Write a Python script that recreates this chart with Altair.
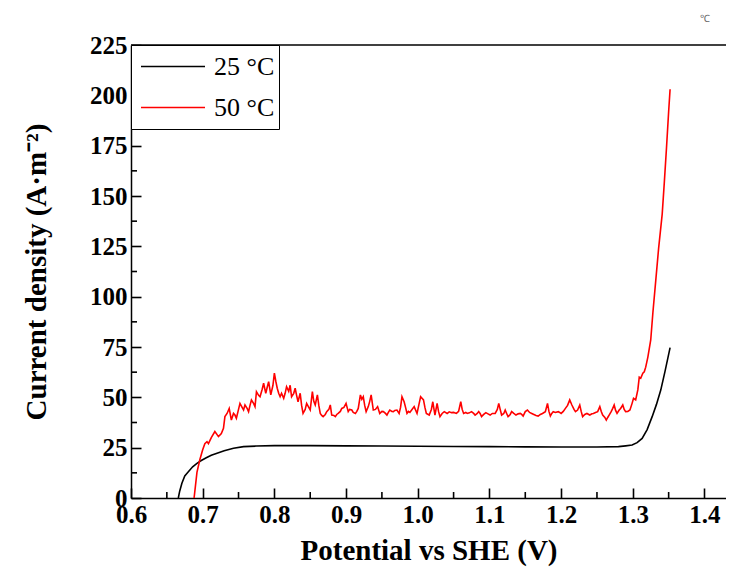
import altair as alt
import pandas as pd

# ---- data ----
series_labels = ["25 °C", "50 °C"]

pot_25 = [0.666, 0.668, 0.671, 0.675, 0.680, 0.686, 0.692, 0.698, 0.705, 0.712, 0.720,
          0.730, 0.743, 0.757, 0.775, 0.800, 0.850, 0.900, 0.950, 1.000, 1.050, 1.100,
          1.150, 1.200, 1.250, 1.280, 1.290, 1.299, 1.306, 1.313, 1.320, 1.327, 1.333,
          1.339, 1.345, 1.352]
cur_25 = [0, 3.5, 7.3, 11.0, 13.0, 15.5, 17.2, 18.6, 20.0, 21.2, 22.2,
          23.5, 24.7, 25.5, 25.8, 26.0, 26.0, 25.9, 25.8, 25.7, 25.6, 25.5,
          25.4, 25.3, 25.3, 25.5, 25.9, 26.3, 27.5, 29.6, 34.0, 40.4, 46.5,
          53.6, 63.0, 74.7]

pot_50 = [0.688, 0.692, 0.696, 0.700, 0.703, 0.706, 0.708, 0.712, 0.717, 0.722, 0.726,
          0.729, 0.731, 0.734, 0.737, 0.740, 0.743, 0.745, 0.747, 0.750, 0.752, 0.755,
          0.757, 0.759, 0.762, 0.764, 0.766, 0.768, 0.771, 0.773, 0.775, 0.778, 0.780,
          0.783, 0.785, 0.788, 0.790, 0.792, 0.795, 0.798, 0.800, 0.802, 0.804, 0.806,
          0.808, 0.810, 0.813, 0.815, 0.817, 0.820, 0.822, 0.824, 0.827, 0.829, 0.831,
          0.833, 0.836, 0.838, 0.840, 0.843, 0.845, 0.848, 0.850, 0.853, 0.855, 0.857,
          0.860, 0.862, 0.864, 0.866, 0.868, 0.871, 0.873, 0.876, 0.878, 0.880, 0.883,
          0.885, 0.887, 0.889, 0.892, 0.894, 0.897, 0.900, 0.903, 0.905, 0.908, 0.910,
          0.913, 0.915, 0.917, 0.920, 0.922, 0.924, 0.926, 0.928, 0.931, 0.933, 0.935,
          0.938, 0.941, 0.944, 0.947, 0.950, 0.952, 0.955, 0.957, 0.959, 0.961, 0.964,
          0.966, 0.968, 0.971, 0.974, 0.976, 0.978, 0.981, 0.983, 0.985, 0.987, 0.989,
          0.992, 0.995, 0.999, 1.002, 1.004, 1.006, 1.008, 1.010, 1.012, 1.016, 1.019,
          1.021, 1.024, 1.027, 1.029, 1.031, 1.034, 1.037, 1.041, 1.044, 1.047, 1.050,
          1.054, 1.057, 1.060, 1.062, 1.064, 1.067, 1.069, 1.072, 1.075, 1.078, 1.080,
          1.083, 1.085, 1.087, 1.089, 1.092, 1.095, 1.098, 1.101, 1.104, 1.108, 1.111,
          1.113, 1.115, 1.117, 1.120, 1.122, 1.124, 1.126, 1.129, 1.131, 1.134, 1.137,
          1.140, 1.143, 1.145, 1.147, 1.150, 1.153, 1.156, 1.159, 1.162, 1.165, 1.168,
          1.171, 1.174, 1.178, 1.181, 1.183, 1.185, 1.187, 1.189, 1.192, 1.196, 1.198,
          1.200, 1.203, 1.206, 1.209, 1.212, 1.215, 1.218, 1.220, 1.223, 1.226, 1.228,
          1.230, 1.233, 1.236, 1.240, 1.243, 1.245, 1.248, 1.251, 1.254, 1.256, 1.258,
          1.261, 1.263, 1.265, 1.267, 1.270, 1.272, 1.274, 1.276, 1.278, 1.281, 1.283,
          1.286, 1.288, 1.290, 1.293, 1.296, 1.299, 1.301, 1.304, 1.307, 1.309, 1.311,
          1.314, 1.316, 1.318, 1.321, 1.325, 1.328, 1.332, 1.336, 1.341, 1.344, 1.347,
          1.350, 1.352]
cur_50 = [0.0, 12.7, 19.0, 24.0, 27.0, 28.0, 27.0, 30.0, 33.0, 30.5, 32.0,
          34.6, 40.4, 42.0, 44.5, 38.7, 42.0, 41.2, 39.6, 44.0, 47.0, 45.0,
          43.7, 46.2, 44.5, 42.9, 46.0, 48.7, 47.0, 45.4, 52.8, 51.0, 50.3,
          54.0, 57.0, 52.0, 55.0, 57.8, 51.2, 56.0, 62.0, 58.0, 54.5, 52.0,
          50.3, 52.0, 49.5, 52.0, 55.3, 53.0, 56.0, 50.3, 52.0, 54.5, 51.0,
          47.8, 52.0, 46.0, 42.0, 44.0, 47.0, 45.0, 43.7, 52.8, 48.0, 46.2,
          51.2, 46.0, 42.0, 41.0, 40.4, 41.5, 42.9, 44.0, 46.2, 41.2, 41.0,
          40.4, 41.5, 42.0, 43.0, 44.5, 45.0, 47.0, 42.9, 44.0, 43.7, 42.5,
          42.0, 43.0, 44.5, 51.2, 49.0, 50.3, 46.0, 42.9, 45.4, 48.0, 51.2,
          43.7, 44.0, 45.4, 42.0, 43.0, 42.9, 42.0, 41.2, 42.5, 43.7, 43.0,
          42.9, 43.5, 43.7, 42.0, 45.0, 50.3, 47.8, 45.0, 42.0, 43.0, 42.5,
          44.0, 45.4, 42.0, 47.0, 50.3, 49.5, 48.7, 45.0, 42.0, 41.2, 44.0,
          47.8, 41.2, 47.0, 43.0, 40.4, 42.0, 42.9, 42.0, 42.8, 42.4, 42.5,
          42.0, 43.0, 47.8, 44.0, 42.0, 42.5, 42.0, 42.3, 42.9, 42.0, 41.2,
          42.0, 42.9, 42.0, 40.4, 41.5, 42.4, 41.8, 41.2, 42.0, 42.0, 44.0,
          47.0, 44.0, 41.2, 42.0, 43.7, 42.0, 40.4, 41.5, 42.9, 42.0, 41.2,
          41.8, 42.0, 41.5, 40.7, 42.9, 43.7, 42.5, 42.0, 41.5, 41.0, 40.7,
          41.5, 42.0, 42.9, 47.0, 43.0, 40.7, 42.0, 42.9, 42.5, 42.9, 42.5,
          42.0, 43.0, 44.5, 46.0, 48.7, 46.2, 44.0, 42.9, 43.7, 46.2, 43.0,
          40.4, 41.5, 42.0, 41.2, 41.8, 42.0, 42.5, 42.9, 45.4, 43.0, 41.2,
          40.0, 38.7, 40.0, 41.2, 43.0, 44.5, 46.2, 43.5, 42.0, 43.7, 44.5,
          46.2, 44.0, 42.9, 43.0, 43.7, 47.0, 49.5, 48.7, 53.7, 60.0, 59.5,
          62.0, 62.7, 65.0, 70.0, 78.5, 92.0, 108.0, 124.0, 141.0, 157.0, 174.0,
          192.0, 203.0]

x_major = [0.6, 0.7, 0.8, 0.9, 1.0, 1.1, 1.2, 1.3, 1.4]
x_minor = [0.65, 0.75, 0.85, 0.95, 1.05, 1.15, 1.25, 1.35]
y_major = [0, 25, 50, 75, 100, 125, 150, 175, 200, 225]
y_minor = [12.5, 37.5, 62.5, 87.5, 112.5, 137.5, 162.5, 187.5, 212.5]

corner_note = "℃"

# ---- tables ----
df = pd.concat([
    pd.DataFrame({"potential": pot_25, "current": cur_25, "series": series_labels[0]}),
    pd.DataFrame({"potential": pot_50, "current": cur_50, "series": series_labels[1]}),
], ignore_index=True)

W, H = 595, 453
FONT = "Liberation Serif"
X0, X1, Y0, Y1 = 0.6, 1.43, 0, 225
MINOR_LEN, TICK_W = 6, 1.6

xscale = alt.Scale(domain=[X0, X1], nice=False, zero=False)
yscale = alt.Scale(domain=[Y0, Y1], nice=False, zero=True)

px_x = (X1 - X0) / W
px_y = (Y1 - Y0) / H

# major ticks drawn by the axes themselves, pointing into the plot
inward_major = {"expr": "-10"}

lines = alt.Chart(df).mark_line(strokeWidth=1.6, clip=True).encode(
    x=alt.X("potential:Q", scale=xscale,
            axis=alt.Axis(orient="bottom", values=x_major, format=".1f", ticks=True,
                          tickSize=inward_major, tickWidth=TICK_W, tickColor="black",
                          grid=False, labelFlush=False, title="Potential vs SHE (V)",
                          labelPadding=14, titlePadding=9)),
    y=alt.Y("current:Q", scale=yscale,
            axis=alt.Axis(orient="left", values=y_major, format="d", ticks=True,
                          tickSize=inward_major, tickWidth=TICK_W, tickColor="black",
                          grid=False, labelFlush=False, title="Current density (A·m⁻²)",
                          labelPadding=14, titlePadding=38)),
    color=alt.Color("series:N",
                    scale=alt.Scale(domain=series_labels, range=["#000000", "#ff0000"]),
                    legend=alt.Legend(title=None, orient="none", legendX=0, legendY=0,
                                      symbolType="stroke", symbolSize=4096,
                                      symbolStrokeWidth=1.6, symbolOffset=5,
                                      labelFont=FONT, labelFontSize=26,
                                      labelFontWeight="normal", labelColor="black",
                                      labelOffset=8, padding=4, rowPadding=6,
                                      clipHeight=35, strokeColor="black",
                                      fillColor="white")),
    detail="series:N",
)

xt = pd.DataFrame({
    "tx": x_minor,
    "ty": [Y0] * len(x_minor),
    "ty2": [Y0 + MINOR_LEN * px_y] * len(x_minor),
})
yt = pd.DataFrame({
    "ty": y_minor,
    "tx": [X0] * len(y_minor),
    "tx2": [X0 + MINOR_LEN * px_x] * len(y_minor),
})

x_ticks = alt.Chart(xt).mark_rule(color="#000000", strokeWidth=TICK_W, opacity=1).encode(
    x=alt.X("tx:Q", scale=xscale, axis=None),
    y=alt.Y("ty:Q", scale=yscale, axis=None),
    y2="ty2:Q",
)
y_ticks = alt.Chart(yt).mark_rule(color="#000000", strokeWidth=TICK_W, opacity=1).encode(
    x=alt.X("tx:Q", scale=xscale, axis=None),
    x2="tx2:Q",
    y=alt.Y("ty:Q", scale=yscale, axis=None),
)

top_border = alt.Chart(pd.DataFrame({"ty": [225]})).mark_rule(color="black", strokeWidth=1.5).encode(
    y=alt.Y("ty:Q", scale=yscale, axis=None))

note = alt.Chart(pd.DataFrame({"tx": [1.401], "ty": [238], "t": [corner_note]})).mark_text(
    font=FONT, fontSize=10, color="#666666", clip=False, baseline="middle", align="center").encode(
    x=alt.X("tx:Q", scale=xscale, axis=None),
    y=alt.Y("ty:Q", scale=yscale, axis=None), text="t:N")

chart = alt.layer(lines, top_border, note, x_ticks, y_ticks).resolve_axis(
    x="independent", y="independent"
).properties(
    width=W, height=H,
    autosize=alt.AutoSizeParams(type="none"),
    padding={"left": 123, "top": 37, "right": 0, "bottom": 77},
).configure_view(stroke=None).configure_axis(
    labelFont=FONT, labelFontSize=25, labelFontWeight="bold", labelColor="black",
    titleFont=FONT, titleFontSize=29, titleFontWeight="bold", titleColor="black",
    domainColor="black", domainWidth=1.5,
)

chart.save("out.html", embed_options={"renderer": "svg", "actions": False})
